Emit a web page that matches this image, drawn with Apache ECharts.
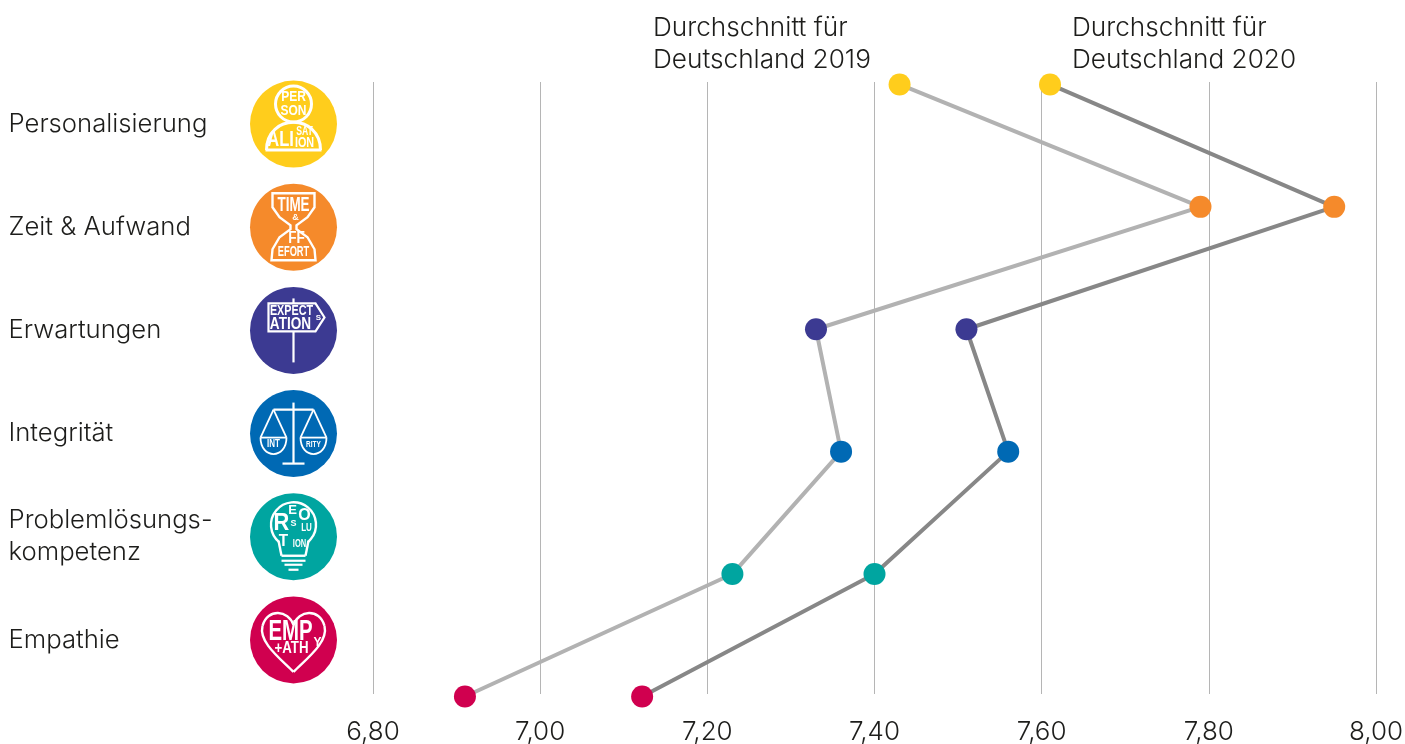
<!DOCTYPE html>
<html>
<head>
	<meta charset="UTF-8">
	<title>Durchschnitt für Deutschland</title>
	<script src="https://cdn.jsdelivr.net/npm/echarts@6/dist/echarts.min.js"></script>
	<style>
		html, body { margin: 0; background: #fff; }
		#chart { width: 1405px; height: 744px; }
	</style>
</head>
<body>
	<div id="chart"></div>
	<script>
		var categories = ['Personalisierung', 'Zeit & Aufwand', 'Erwartungen', 'Integrität', 'Problemlösungs-\nkompetenz', 'Empathie'];
		var values2019 = [7.43, 7.79, 7.33, 7.36, 7.23, 6.91];
		var values2020 = [7.61, 7.95, 7.51, 7.56, 7.40, 7.122];
		var colors = ['#ffcd1c', '#f58a2b', '#3c3a92', '#0069b4', '#00a5a0', '#d0004f'];
		var xTicks = [6.8, 7.0, 7.2, 7.4, 7.6, 7.8, 8.0];
		var tickLabels = ['6,80', '7,00', '7,20', '7,40', '7,60', '7,80', '8,00'];
		var note2019 = 'Durchschnitt für\nDeutschland 2019';
		var note2020 = 'Durchschnitt für\nDeutschland 2020';

		var font = 'Inter, "Noto Sans", sans-serif';
		var iconFont = '"Liberation Sans", sans-serif';
		var ink = '#1d1d1b';

		// kleine Helfer fuer die Icons, alles relativ zur Kreismitte
		function stroke(w) { return { stroke: '#fff', lineWidth: w || 2, fill: null }; }
		function seg(x1, y1, x2, y2, w) {
			return { type: 'line', shape: { x1: x1, y1: y1, x2: x2, y2: y2 }, style: stroke(w) };
		}
		function curve(x1, y1, a, b, c, d, x2, y2, w) {
			return { type: 'bezierCurve', shape: { x1: x1, y1: y1, cpx1: a, cpy1: b, cpx2: c, cpy2: d, x2: x2, y2: y2 }, style: stroke(w) };
		}
		function ring(x, y, r, w) {
			return { type: 'circle', shape: { cx: x, cy: y, r: r }, style: stroke(w) };
		}
		function poly(points, w, fill) {
			return { type: 'polygon', shape: { points: points }, style: { stroke: '#fff', lineWidth: w || 2, fill: fill || null } };
		}
		function word(s, x, y, size, sx) {
			return {
				type: 'text', x: x, y: y, scaleX: sx || 1,
				style: { text: s, fill: '#fff', font: 'bold ' + size + 'px ' + iconFont, align: 'center', verticalAlign: 'middle' }
			};
		}

		var iconArt = [
			[ // person
				ring(0, -20, 18, 3), word('PER', 0, -27, 15, .8), word('SON', 0, -13, 15, .8),
				curve(-27, 26, -27, -11, 27, -11, 27, 26, 3), seg(-28, 26, 28, 26, 3),
				word('ALI', -13, 16, 22, .75), word('SAT', 11, 8, 12, .72), word('ION', 11, 19, 15, .72)
			],
			[ // sanduhr
				poly([[-21, -34], [21, -34], [21, -20], [14, -10], [3, -2], [3, 2], [14, 10], [21, 22], [22, 33], [-22, 33], [-21, 22], [-14, 10], [-3, 2], [-3, -2], [-14, -10], [-21, -20]], 2.4),
				word('TIME', 0, -22, 21, .64), word('&', 2, -10, 9), word('FF', 3, 11, 16, .85), word('EFORT', 0, 25, 15, .62)
			],
			[ // schild
				seg(0, -32, 0, 32, 2.2),
				poly([[-25, -27], [22, -27], [31, -13], [22, 1], [-25, 1]], 2.2, colors[2]),
				word('EXPECT', -2, -20, 15, .72), word('ATION', -3, -6, 17, .8), word('S', 25, -13, 8)
			],
			[ // waage
				seg(0, -31, 0, 30, 2.2), seg(-11, 30, 11, 30, 2.2), seg(-20, -24, 20, -24, 2.2),
				seg(-20, -24, -33, 4, 1.8), seg(-20, -24, -7, 4, 1.8), seg(20, -24, 7, 4, 1.8), seg(20, -24, 33, 4, 1.8),
				seg(-33, 4, -7, 4, 1.8), seg(7, 4, 33, 4, 1.8),
				curve(-33, 4, -33, 26, -7, 26, -7, 4, 1.8), curve(7, 4, 7, 26, 33, 26, 33, 4, 1.8),
				word('INT', -20, 11, 10, .8), word('RITY', 20, 11, 9, .72)
			],
			[ // gluehbirne
				{ type: 'arc', shape: { cx: 0, cy: -12, r: 22.5, startAngle: Math.PI * 0.72, endAngle: Math.PI * 0.28, clockwise: true }, style: stroke(2.4) },
				seg(-15, 4, -12, 19, 2.4), seg(15, 4, 12, 19, 2.4), seg(-12, 19, 12, 19, 2.4),
				seg(-12, 24, 12, 24, 2.2), seg(-9, 28, 9, 28, 2.2), seg(-5, 33, 5, 33, 2.2),
				word('R', -12, -13, 23, .95), word('E', -1, -26, 13), word('O', 11, -21, 16),
				word('S', 0, -13, 9), word('LU', 13, -9, 10, .8), word('T', -10, 5, 17, .9), word('ION', 6, 7, 10, .75)
			],
			[ // herz
				curve(0, -15, 5, -30, 26, -32, 31, -14, 2.4), curve(31, -14, 35, 2, 14, 18, 0, 32, 2.4),
				curve(0, -15, -5, -30, -26, -32, -31, -14, 2.4), curve(-31, -14, -35, 2, -14, 18, 0, 32, 2.4),
				word('EMP', -3, -8, 30, .68), word('+ATH', -2, 9, 16, .83), word('Y', 24, 3, 12)
			]
		];

		function renderIcon(params, api) {
			var p = api.coord([api.value(0), api.value(1)]);
			return {
				type: 'group', x: p[0], y: p[1],
				children: [{ type: 'circle', shape: { cx: 0, cy: 0, r: 43.5 }, style: { fill: colors[params.dataIndex] } }].concat(iconArt[params.dataIndex])
			};
		}

		function points(values) {
			return values.map(function (v, i) {
				return { value: [v, i], itemStyle: { color: colors[i] } };
			});
		}

		function lineSeries(name, values, lineColor) {
			return {
				name: name, type: 'line', xAxisIndex: 0, yAxisIndex: 0,
				data: points(values), clip: false,
				symbol: 'circle', symbolSize: 22, showSymbol: true,
				lineStyle: { color: lineColor, width: 4 },
				z: 5
			};
		}

		var myChart = echarts.init(document.getElementById('chart'), null, { renderer: 'canvas' });
		myChart.setOption({
			animation: false,
			grid: [
				{ left: 373, top: 82, width: 1003, height: 612, outerBoundsMode: 'none' },
				{ left: 250.5, top: 72.5, width: 86, height: 619, outerBoundsMode: 'none' }
			],
			xAxis: [
				{
					gridIndex: 0, type: 'value', min: xTicks[0], max: xTicks[xTicks.length - 1], interval: 0.2,
					axisLine: { show: false }, axisTick: { show: false },
					splitLine: { show: true, lineStyle: { color: '#b5b5b5', width: 1 } },
					axisLabel: {
						margin: 25, fontFamily: font, fontWeight: 300, fontSize: 26, color: ink,
						customValues: xTicks,
						formatter: function (v) { return tickLabels[xTicks.indexOf(Math.round(v * 10) / 10)]; }
					}
				},
				{ gridIndex: 1, type: 'value', min: -1, max: 1, show: false }
			],
			yAxis: [
				{ gridIndex: 0, type: 'value', inverse: true, min: -0.02, max: 4.98, show: false },
				{
					gridIndex: 1, type: 'category', inverse: true, data: categories,
					axisLine: { show: false }, axisTick: { show: false },
					axisLabel: { margin: 242, align: 'left', fontFamily: font, fontWeight: 300, fontSize: 25.7, lineHeight: 32, color: ink }
				}
			],
			series: [
				lineSeries('2019', values2019, '#b2b2b2'),
				lineSeries('2020', values2020, '#878787'),
				{
					type: 'custom', xAxisIndex: 1, yAxisIndex: 1, renderItem: renderIcon, clip: false,
					data: categories.map(function (c, i) { return [0, i]; })
				}
			],
			graphic: [
				{ type: 'text', left: 653, top: 12, style: { text: note2019, font: '300 26.2px ' + font, lineHeight: 32, fill: ink } },
				{ type: 'text', left: 1072, top: 12, style: { text: note2020, font: '300 26.2px ' + font, lineHeight: 32, fill: ink } }
			]
		});
	</script>
</body>
</html>
